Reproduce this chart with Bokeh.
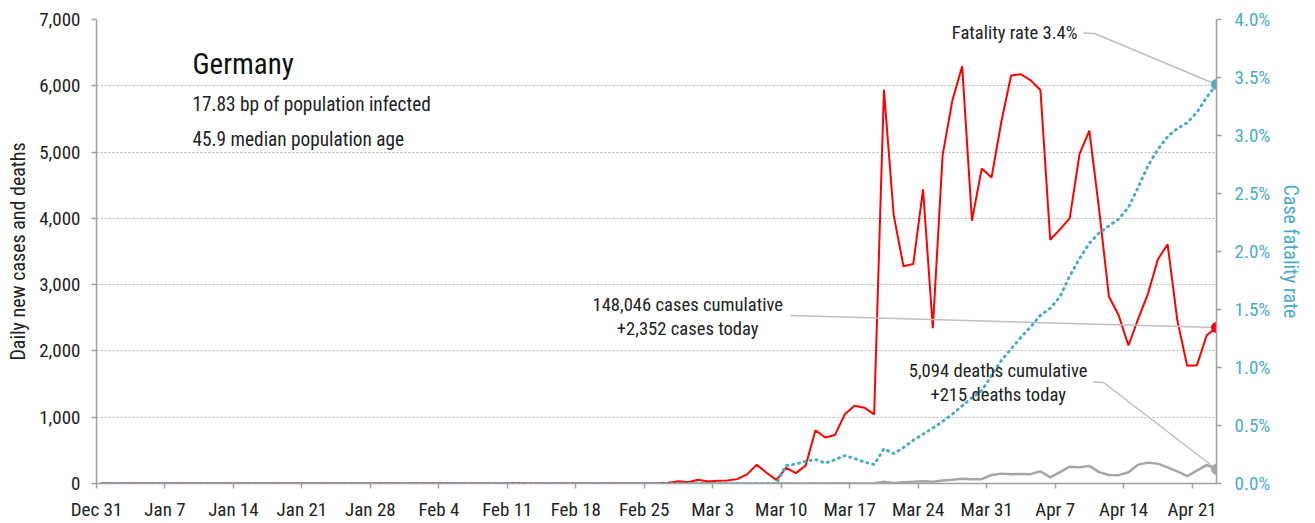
import numpy as np
from bokeh.plotting import figure
from bokeh.models import Range1d, LinearAxis, FixedTicker, NumeralTickFormatter, PrintfTickFormatter
from bokeh.core.properties import value
from bokeh.embed import file_html
from bokeh.resources import INLINE

FONT = "'Roboto Condensed', 'Noto Sans Condensed', 'DejaVu Sans Condensed', Roboto"

# Daily values, Dec 31 2019 .. Apr 23 2020 (one row per week starting Dec 31)
cases = [
    0, 0, 0, 0, 0, 0, 0,
    0, 0, 0, 0, 0, 0, 0,
    0, 0, 0, 0, 0, 0, 0,
    0, 0, 0, 0, 0, 0, 0,
    1, 3, 0, 1, 3, 0, 0,
    2, 0, 0, 1, 0, 1, 0,
    2, 2, 0, 0, 0, 0, 0,
    0, 0, 0, 0, 0, 0, 0,
    0, 3, 10, 35, 20, 57, 29,
    40, 45, 66, 138, 284, 163, 55,
    237, 157, 271, 802, 693, 733, 1043,
    1174, 1144, 1042, 5940, 4049, 3276, 3311,
    4438, 2342, 4954, 5780, 6294, 3965, 4751,
    4615, 5453, 6156, 6174, 6082, 5936, 3677,
    3834, 4003, 4974, 5323, 4133, 2821, 2537,
    2082, 2486, 2866, 3380, 3609, 2458, 1775,
    1785, 2237, 2352,
]
deaths = [
    0, 0, 0, 0, 0, 0, 0,
    0, 0, 0, 0, 0, 0, 0,
    0, 0, 0, 0, 0, 0, 0,
    0, 0, 0, 0, 0, 0, 0,
    0, 0, 0, 0, 0, 0, 0,
    0, 0, 0, 0, 0, 0, 0,
    0, 0, 0, 0, 0, 0, 0,
    0, 0, 0, 0, 0, 0, 0,
    0, 0, 0, 0, 0, 0, 0,
    0, 0, 0, 0, 0, 0, 0,
    2, 0, 1, 3, 0, 2, 4,
    1, 0, 3, 26, 6, 20, 25,
    33, 26, 45, 56, 72, 64, 66,
    128, 149, 140, 145, 141, 184, 92,
    173, 254, 246, 266, 171, 129, 126,
    170, 285, 315, 299, 242, 184, 110,
    194, 281, 215,
]
# Case fatality rate, percent
cfr = [
    0, 0, 0, 0, 0, 0, 0,
    0, 0, 0, 0, 0, 0, 0,
    0, 0, 0, 0, 0, 0, 0,
    0, 0, 0, 0, 0, 0, 0,
    0, 0, 0, 0, 0, 0, 0,
    0, 0, 0, 0, 0, 0, 0,
    0, 0, 0, 0, 0, 0, 0,
    0, 0, 0, 0, 0, 0, 0,
    0, 0, 0, 0, 0, 0, 0,
    0, 0, 0, 0, 0, 0, 0,
    0.155, 0.168, 0.19, 0.207, 0.176, 0.205, 0.241,
    0.215, 0.185, 0.164, 0.299, 0.258, 0.31, 0.372,
    0.425, 0.478, 0.535, 0.598, 0.67, 0.74, 0.80,
    0.93, 1.06, 1.16, 1.26, 1.35, 1.45, 1.51,
    1.61, 1.79, 1.94, 2.07, 2.16, 2.22, 2.28,
    2.38, 2.555, 2.74, 2.88, 2.99, 3.06, 3.11,
    3.20, 3.33, 3.44,
]
tick_labels = ["Dec 31", "Jan 7", "Jan 14", "Jan 21", "Jan 28", "Feb 4", "Feb 11",
               "Feb 18", "Feb 25", "Mar 3", "Mar 10", "Mar 17", "Mar 24", "Mar 31",
               "Apr 7", "Apr 14", "Apr 21"]
left_ticks = [0, 1000, 2000, 3000, 4000, 5000, 6000, 7000]
right_ticks = [0, 0.5, 1.0, 1.5, 2.0, 2.5, 3.0, 3.5, 4.0]

title = "Germany"
subtitle = ["17.83 bp of population infected", "45.9 median population age"]
cases_note = ["148,046 cases cumulative", "+2,352 cases today"]
deaths_note = ["5,094 deaths cumulative", "+215 deaths today"]
cfr_note = "Fatality rate 3.4%"

x = np.arange(len(cases)) + 0.5
xl = float(x[-1])

AXIS_GRAY = "#A0A0A0"
TXT = "#222222"
BLUE = "#4BACC6"
RED = "#FF0000"
DGRAY = "#A6A6A6"
LEAD = "#BFBFBF"

p = figure(width=1315, height=523, output_backend="svg", toolbar_location=None,
           x_range=Range1d(0, xl), y_range=Range1d(0, 7000),
           min_border_left=96, min_border_right=99, min_border_top=19, min_border_bottom=40)
p.extra_y_ranges = {"cfr": Range1d(0, 4.0)}
p.outline_line_color = None
p.background_fill_color = "white"
p.border_fill_color = "white"

p.xgrid.visible = False
p.ygrid.ticker = FixedTicker(ticks=left_ticks)
p.ygrid.grid_line_color = "#B4B4B4"
p.ygrid.grid_line_dash = "2 2"
p.ygrid.grid_line_width = 1

p.xaxis.ticker = FixedTicker(ticks=[7 * i for i in range(len(tick_labels))])
p.xaxis.major_label_overrides = {7 * i: t for i, t in enumerate(tick_labels)}
p.xaxis.major_label_standoff = 9

p.yaxis.ticker = FixedTicker(ticks=left_ticks)
p.yaxis.formatter = NumeralTickFormatter(format="0,0")
p.yaxis.axis_label = "Daily new cases and deaths"
p.yaxis.major_label_standoff = 11
p.yaxis.axis_label_standoff = 6

raxis = LinearAxis(y_range_name="cfr", ticker=FixedTicker(ticks=right_ticks),
                   formatter=PrintfTickFormatter(format="%.1f%%"),
                   axis_label="Case fatality rate")
p.add_layout(raxis, "right")
raxis.major_label_standoff = 13
raxis.axis_label_standoff = 6

for ax in [p.xaxis[0], p.yaxis[0], raxis]:
    ax.axis_line_color = AXIS_GRAY
    ax.axis_line_width = 1.5
    ax.major_tick_line_color = AXIS_GRAY
    ax.major_tick_line_width = 1.5
    ax.major_tick_in = 0
    ax.major_tick_out = 5
    ax.minor_tick_line_color = None
    ax.major_label_text_font = FONT
    ax.major_label_text_font_size = "19px"
    ax.major_label_text_color = TXT
    ax.axis_label_text_font = FONT
    ax.axis_label_text_font_size = "20px"
    ax.axis_label_text_font_style = "normal"
    ax.axis_label_text_color = TXT
raxis.major_label_text_color = BLUE
raxis.axis_label_text_color = BLUE

# series
p.line(x, deaths, line_color=DGRAY, line_width=2.5)
p.line(x, cases, line_color=RED, line_width=2)
p.line(x, cfr, y_range_name="cfr", line_color=BLUE, line_width=3,
       line_dash="1 5", line_cap="round")

# leader lines (text anchor -> last value)
p.line([70.95, xl], [2534, cases[-1]], line_color=LEAD, line_width=1.5)
p.line([101.92, 102.95, xl], [1531, 1524, deaths[-1]], line_color=LEAD, line_width=1.5)
p.line([100.9, 102.03, xl], [3.884, 3.879, cfr[-1]], y_range_name="cfr",
       line_color=LEAD, line_width=1.5)

# end markers
p.scatter([xl], [deaths[-1]], size=10, color=DGRAY)
p.scatter([xl], [cases[-1]], size=10, color=RED)
p.scatter([xl], [cfr[-1]], y_range_name="cfr", size=10, color=BLUE)

# texts
p.text(x=[9.81], y=[6336], text=[title], text_font=value(FONT), text_font_size="29px",
       text_color="#111111", text_baseline="alphabetic", text_align="left")
p.text(x=[9.81, 9.81], y=[5722, 5194], text=subtitle, text_font=value(FONT),
       text_font_size="19.3px", text_color=TXT, text_baseline="alphabetic", text_align="left")
p.text(x=[60.44, 60.44], y=[2690, 2324], text=cases_note, text_font=value(FONT),
       text_font_size="18.6px", text_color=TXT, text_baseline="alphabetic", text_align="center")
p.text(x=[92.18, 92.18], y=[1701, 1333], text=deaths_note, text_font=value(FONT),
       text_font_size="18.6px", text_color=TXT, text_baseline="alphabetic", text_align="center")
p.text(x=[100.29], y=[3.885], y_range_name="cfr", text=[cfr_note], text_font=value(FONT),
       text_font_size="18.6px", text_color=TXT, text_baseline="alphabetic", text_align="right")

open("out.html", "w").write(file_html(p, INLINE))
